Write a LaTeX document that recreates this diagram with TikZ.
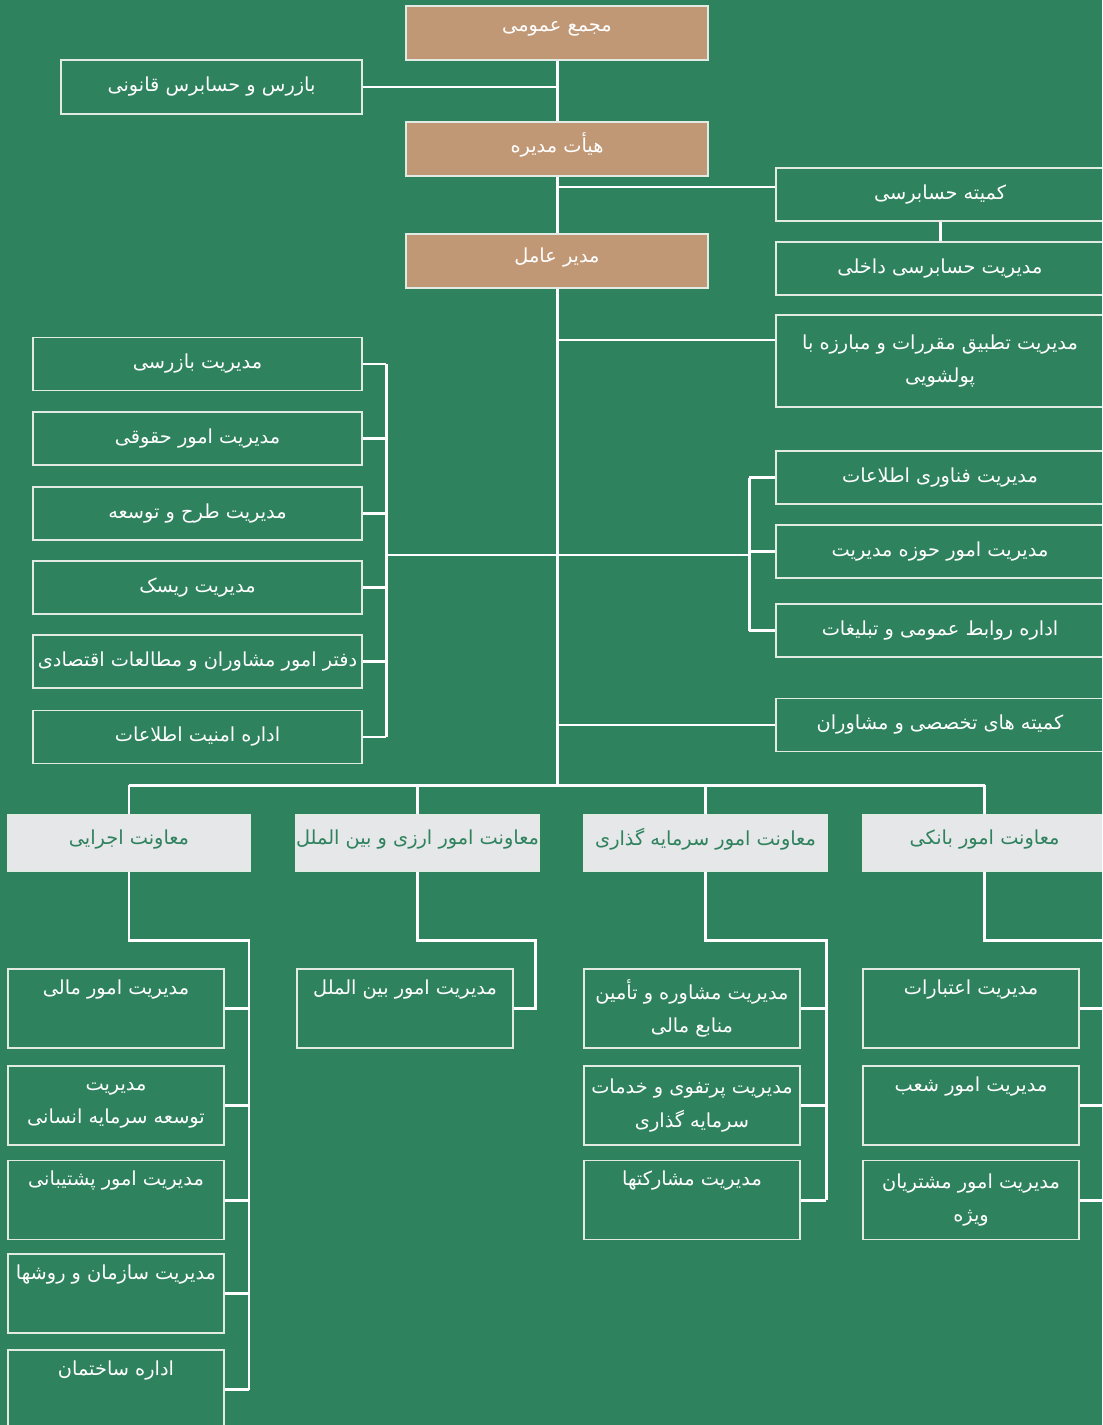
\documentclass[tikz,border=0pt]{standalone}
\usepackage{fontspec}
\usepackage{tikz}
\usetikzlibrary{positioning}
\newfontfamily\farsi[Script=Arabic]{DejaVu Sans}
\TeXXeTstate=1
\newcommand{\fa}[1]{\beginR #1\endR}
\definecolor{bggreen}{RGB}{46,130,94}
\definecolor{headbrown}{RGB}{193,152,118}
\definecolor{vicegray}{RGB}{230,231,232}
\definecolor{boxline}{RGB}{225,235,228}

\begin{document}
\begin{tikzpicture}[x=0.02cm, y=-0.02cm,
    every node/.style={font=\farsi\fontsize{11}{19}\selectfont, text=white},
    orgbox/.style={draw=boxline, line width=0.85pt, align=center, inner sep=2pt, minimum height=1.06cm},
    headbox/.style={orgbox, fill=headbrown, minimum width=6.04cm, minimum height=1.08cm, text depth=0.25cm},
    unitbox/.style={orgbox, minimum width=6.58cm},
    sidebox/.style={orgbox, minimum width=6.56cm},
    vicebox/.style={orgbox, fill=vicegray, text=bggreen, inner xsep=0pt, minimum width=4.86cm, minimum height=1.12cm, text depth=0.25cm},
    subbox/.style={orgbox, minimum width=4.32cm, minimum height=1.58cm},
    link/.style={draw=white, line width=1.7pt}]

    \useasboundingbox (0,0) rectangle (1102,1425);
    \fill[bggreen] (0,0) rectangle (1102,1425);
    \clip (0,0) rectangle (1102,1425);

    % === Top of the chart ===
    \node[headbox] (gm) at (557,33) {\fa{مجمع عمومی}};
    \node[orgbox, minimum width=6.02cm, minimum height=1.08cm] (insp) at (211.5,87) {\fa{بازرس و حسابرس قانونی}};
    \node[headbox] (board) at (557,149) {\fa{هیأت مدیره}};
    \node[headbox] (ceo) at (557,261) {\fa{مدیر عامل}};

    \node[sidebox] (acom) at (940,194.5) {\fa{کمیته حسابرسی}};
    \node[sidebox] (iaud) at (940,268.5) {\fa{مدیریت حسابرسی داخلی}};
    \node[sidebox, minimum height=1.84cm] (aml) at (940,361) {\fa{مدیریت تطبیق مقررات و مبارزه با}\\\fa{پولشویی}};

    \draw[link] (gm.south) -- (board.north);
    \draw[link] (insp.east) -- (insp.east -| gm.south);
    \draw[link] (board.south) -- (ceo.north);
    \draw[link] ([yshift=0.15cm]acom.west) -- ([yshift=0.15cm]acom.west -| board.south);
    \draw[link] (acom.south) -- (iaud.north);

    % === Units under the CEO ===
    \node[unitbox] (l1) at (197.5,364) {\fa{مدیریت بازرسی}};
    \node[unitbox] (l2) at (197.5,438.5) {\fa{مدیریت امور حقوقی}};
    \node[unitbox] (l3) at (197.5,513.5) {\fa{مدیریت طرح و توسعه}};
    \node[unitbox] (l4) at (197.5,587.5) {\fa{مدیریت ریسک}};
    \node[unitbox] (l5) at (197.5,661.5) {\fa{دفتر امور مشاوران و مطالعات اقتصادی}};
    \node[unitbox] (l6) at (197.5,737) {\fa{اداره امنیت اطلاعات}};

    \node[sidebox] (r1) at (940,477.5) {\fa{مدیریت فناوری اطلاعات}};
    \node[sidebox] (r2) at (940,551.5) {\fa{مدیریت امور حوزه مدیریت}};
    \node[sidebox] (r3) at (940,630.5) {\fa{اداره روابط عمومی و تبلیغات}};
    \node[sidebox] (r4) at (940,725) {\fa{کمیته های تخصصی و مشاوران}};

    \coordinate (lbus) at (386,555);
    \coordinate (rbus) at (749,555);
    \coordinate (hbus) at (557,785);

    \draw[link] (ceo.south) -- (hbus);
    \draw[link] ([yshift=0.42cm]aml.west) -- ([yshift=0.42cm]aml.west -| ceo.south);
    \draw[link] (lbus |- l1.east) -- (lbus |- l6.east);
    \foreach \i in {1,...,6}
        \draw[link] (l\i.east) -- (l\i.east -| lbus);
    \draw[link] (rbus |- r1.west) -- (rbus |- r3.west);
    \foreach \i in {1,2,3}
        \draw[link] (r\i.west) -- (r\i.west -| rbus);
    \draw[link] (lbus) -- (rbus);
    \draw[link] (r4.west) -- (r4.west -| ceo.south);

    % === Deputies ===
    \node[vicebox] (vexe) at (129,843) {\fa{معاونت اجرایی}};
    \node[vicebox] (vfx) at (417.5,843) {\fa{معاونت امور ارزی و بین الملل}};
    \node[vicebox] (vinv) at (705.5,843) {\fa{معاونت امور سرمایه گذاری}};
    \node[vicebox] (vbank) at (984.5,843) {\fa{معاونت امور بانکی}};

    \draw[link] (vexe.north |- hbus) -- (vbank.north |- hbus);
    \foreach \v in {vexe,vfx,vinv,vbank}
        \draw[link] (\v.north) -- (\v.north |- hbus);

    % === Departments of each deputy ===
    \node[subbox] (e1) at (116,1008.5) {\fa{مدیریت امور مالی}\\\strut};
    \node[subbox] (e2) at (116,1105.5) {\fa{مدیریت}\\\fa{توسعه سرمایه انسانی}};
    \node[subbox] (e3) at (116,1200) {\fa{مدیریت امور پشتیبانی}\\\strut};
    \node[subbox] (e4) at (116,1293.5) {\fa{مدیریت سازمان و روشها}\\\strut};
    \node[subbox] (e5) at (116,1389.5) {\fa{اداره ساختمان}\\\strut};

    \node[subbox] (f1) at (405,1008.5) {\fa{مدیریت امور بین الملل}\\\strut};

    \node[subbox] (i1) at (692,1008.5) {\fa{مدیریت مشاوره و تأمین}\\\fa{منابع مالی}};
    \node[subbox] (i2) at (692,1105.5) {\fa{مدیریت پرتفوی و خدمات}\\\fa{سرمایه گذاری}};
    \node[subbox] (i3) at (692,1200) {\fa{مدیریت مشارکتها}\\\strut};

    \node[subbox] (b1) at (971,1008.5) {\fa{مدیریت اعتبارات}\\\strut};
    \node[subbox] (b2) at (971,1105.5) {\fa{مدیریت امور شعب}\\\strut};
    \node[subbox] (b3) at (971,1200) {\fa{مدیریت امور مشتریان}\\\fa{ویژه}};

    \coordinate (ebus) at (249,940);
    \coordinate (fbus) at (535,940);
    \coordinate (ibus) at (826,940);
    \coordinate (bbus) at (1116,940);

    \draw[link] (vexe.south) |- (ebus) -- (ebus |- e5.east);
    \foreach \i in {1,...,5}
        \draw[link] (e\i.east) -- (e\i.east -| ebus);
    \draw[link] (vfx.south) |- (fbus) |- (f1.east);
    \draw[link] (vinv.south) |- (ibus) -- (ibus |- i3.east);
    \foreach \i in {1,2,3}
        \draw[link] (i\i.east) -- (i\i.east -| ibus);
    \draw[link] (vbank.south) |- (bbus) -- (bbus |- b3.east);
    \foreach \i in {1,2,3}
        \draw[link] (b\i.east) -- (b\i.east -| bbus);
\end{tikzpicture}
\end{document}
